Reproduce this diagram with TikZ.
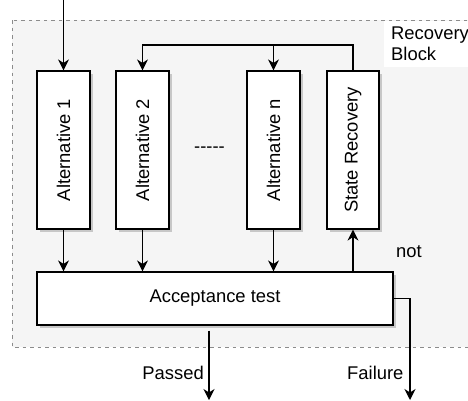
\documentclass[tikz,border=0pt]{standalone}
\usepackage{fontspec}
\setmainfont{Liberation Sans}
\usetikzlibrary{arrows.meta,shadows}
\begin{document}
\begin{tikzpicture}[x=1pt,y=-1pt,
  font=\fontsize{18.4}{21}\selectfont,
  box/.style={draw=black,line width=1.2pt,fill=white,
    drop shadow={shadow xshift=2.5pt,shadow yshift=-2.5pt,fill=black!22,opacity=1},
    inner sep=0pt},
  altbox/.style={box,minimum width=53pt,minimum height=158pt},
  conn/.style={line width=1.2pt,-{Stealth[length=11pt,width=11pt,inset=3.5pt]}},
  lbl/.style={inner sep=0pt}]
\useasboundingbox (0,0) rectangle (468,400);

% dashed recovery block region
\path[fill=black!4,draw=black!45,line width=1pt,dash pattern=on 3.5pt off 4pt]
  (12,20) rectangle (490,347);
\fill[white] (384,21) rectangle (468,67);
\node[lbl,anchor=north west,align=left] (rb) at (391,27) {Recovery\\Block};

% alternatives and state recovery
\node[altbox] (alt1) at (63.5,150) {\rotatebox{90}{Alternative 1}};
\node[altbox] (alt2) at (142.5,150) {\rotatebox{90}{Alternative 2}};
\node[altbox] (altn) at (273.5,150) {\rotatebox{90}{Alternative n}};
\node[altbox,minimum width=52pt] (sr) at (353,150) {\rotatebox{90}{State Recovery}};
\node[lbl] (dots) at (209.5,150) {-{}-{}-{}-{}-};

% acceptance test
\node[box,minimum width=356pt,minimum height=53pt] (acc) at (215,298.5) {Acceptance test};

% entry and exits
\coordinate (entry) at (63.5,0);
\coordinate (fb) at (353,45);
\coordinate (pass) at (209,400);
\coordinate (fail) at (410,400);

\draw[conn] (entry) -- (alt1);
\draw[conn] (sr) -- (fb) -| (alt2);
\draw[conn] (altn.north |- fb) -- (altn);

\draw[conn] (alt1) -- (alt1 |- acc.north);
\draw[conn] (alt2) -- (alt2 |- acc.north);
\draw[conn] (altn) -- (altn |- acc.north);
\draw[conn] (sr |- acc.north) -- (sr);

\draw[conn] (acc.east) -| (fail);
\draw[conn,shorten <=5pt] (pass |- acc.south) -- (pass);

% edge labels
\node[lbl,anchor=east] (lpass) at (204,373) {Passed};
\node[lbl,anchor=west] (lfail) at (347,373) {Failure};
\node[lbl,anchor=west] (lnot) at (396,252) {not};
\end{tikzpicture}
\end{document}
